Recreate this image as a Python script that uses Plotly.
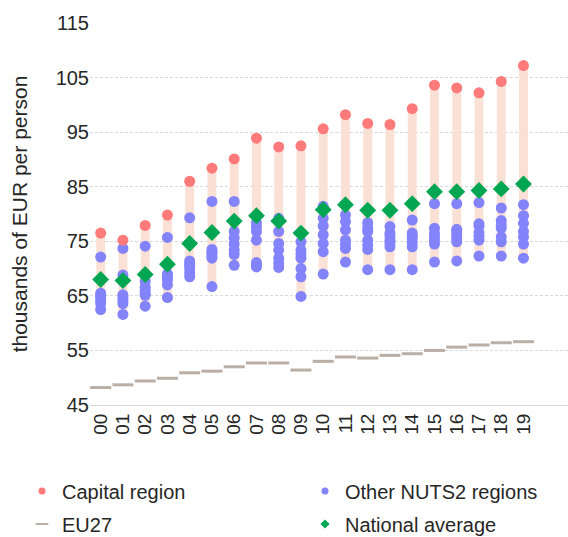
import plotly.graph_objects as go

years = ["00", "01", "02", "03", "04", "05", "06", "07", "08", "09",
         "10", "11", "12", "13", "14", "15", "16", "17", "18", "19"]

capital = [76.5, 75.2, 77.9, 79.8, 86.0, 88.4, 90.1, 93.9, 92.3, 92.5,
           95.6, 98.2, 96.6, 96.4, 99.3, 103.6, 103.1, 102.2, 104.3, 107.2]

national = [68.0, 67.8, 68.9, 70.8, 74.6, 76.6, 78.7, 79.7, 78.7, 76.5,
            80.8, 81.7, 80.7, 80.7, 81.9, 84.1, 84.1, 84.3, 84.6, 85.5]

eu27 = [48.2, 48.7, 49.4, 49.9, 50.9, 51.2, 52.0, 52.7, 52.7, 51.4,
        53.0, 53.8, 53.6, 54.1, 54.4, 55.0, 55.6, 56.0, 56.4, 56.6]

other_regions = [
    [72.1, 65.5, 64.8, 64.2, 63.6, 62.5, 65.0],
    [73.7, 68.8, 64.8, 64.2, 63.6, 61.6, 65.2],
    [74.1, 67.6, 66.0, 65.5, 65.1, 63.1, 66.6],
    [75.7, 68.8, 67.9, 67.0, 68.3, 64.7, 69.0],
    [79.3, 71.4, 70.6, 70.0, 69.2, 68.5, 70.9],
    [82.3, 73.5, 72.8, 71.9, 73.0, 66.7, 72.3],
    [82.3, 76.8, 75.6, 74.5, 73.4, 72.6, 70.6],
    [78.4, 77.6, 76.8, 75.2, 71.1, 70.3, 70.7],
    [79.2, 76.8, 74.6, 73.4, 71.9, 70.2, 71.0],
    [74.9, 73.4, 71.9, 70.0, 68.5, 64.9, 72.6],
    [81.4, 79.2, 77.8, 76.2, 74.6, 73.1, 69.0],
    [79.8, 78.6, 77.1, 75.2, 73.7, 74.4, 71.2],
    [78.4, 76.8, 75.2, 73.5, 74.3, 77.5, 69.8],
    [77.7, 76.5, 75.2, 74.0, 76.0, 74.7, 69.8],
    [78.9, 76.5, 75.6, 74.0, 74.8, 76.0, 69.8],
    [81.9, 77.4, 75.8, 74.5, 76.5, 75.2, 71.2],
    [81.9, 77.2, 76.2, 74.9, 75.6, 76.8, 71.4],
    [82.1, 77.8, 76.6, 75.2, 78.2, 75.9, 72.3],
    [81.1, 78.8, 77.4, 74.9, 78.0, 75.8, 72.3],
    [81.7, 79.7, 78.3, 76.8, 75.8, 74.5, 71.9],
]

RED = "#FF7B7B"
BLUE = "#8383FC"
GREEN = "#00A651"
DASH = "#BBAEA5"
BAR = "#FBE1D5"
FONT = "Liberation Sans, Arial, sans-serif"
TXT = "#262626"

idx = list(range(len(years)))
lows = [min(v) for v in other_regions]

fig = go.Figure()

# range bars
fig.add_trace(go.Bar(
    x=idx, y=[c - l for c, l in zip(capital, lows)], base=lows,
    width=0.4, marker=dict(color=BAR, line=dict(width=0)),
    showlegend=False, hoverinfo="skip"))

# EU27 dashes
fig.add_trace(go.Scatter(
    x=idx, y=eu27, mode="markers",
    marker=dict(symbol="line-ew", size=15, line=dict(color=DASH, width=3)),
    showlegend=False))

# other regions
ox, oy = [], []
for i, vals in zip(idx, other_regions):
    for v in vals:
        ox.append(i)
        oy.append(v)
fig.add_trace(go.Scatter(
    x=ox, y=oy, mode="markers",
    marker=dict(symbol="circle", size=11, color=BLUE),
    showlegend=False))

# national average
fig.add_trace(go.Scatter(
    x=idx, y=national, mode="markers",
    marker=dict(symbol="diamond", size=13, color=GREEN),
    showlegend=False))

# capital
fig.add_trace(go.Scatter(
    x=idx, y=capital, mode="markers",
    marker=dict(symbol="circle", size=11, color=RED),
    showlegend=False))

# legend entries (one legend box per entry for exact placement)
fig.add_trace(go.Scatter(x=[None], y=[None], mode="markers", name="Capital region",
                         legend="legend",
                         marker=dict(symbol="circle", size=7, color=RED)))
fig.add_trace(go.Scatter(x=[None], y=[None], mode="markers", name="Other NUTS2 regions",
                         legend="legend2",
                         marker=dict(symbol="circle", size=7, color=BLUE)))
fig.add_trace(go.Scatter(x=[None], y=[None], mode="markers", name="EU27",
                         legend="legend3",
                         marker=dict(symbol="line-ew", size=9, line=dict(color=DASH, width=2))))
fig.add_trace(go.Scatter(x=[None], y=[None], mode="markers", name="National average",
                         legend="legend4",
                         marker=dict(symbol="diamond", size=7, color=GREEN)))

def leg(x, y):
    return dict(orientation="h", xref="container", yref="container",
                x=x, y=y, xanchor="left", yanchor="middle",
                font=dict(size=20, color=TXT), bgcolor="rgba(0,0,0,0)")

col1 = 22 / 568
col2 = 305 / 568
row1 = 1 - 491 / 537
row2 = 1 - 524 / 537

fig.update_layout(
    width=568, height=537,
    margin=dict(l=90, r=0, t=23, b=132, autoexpand=False),
    paper_bgcolor="white", plot_bgcolor="white",
    font=dict(family=FONT, size=20, color=TXT),
    barmode="overlay",
    showlegend=True,
    legend=leg(col1, row1),
    legend2=leg(col2, row1),
    legend3=leg(col1, row2),
    legend4=leg(col2, row2),
    xaxis=dict(range=[-0.48, 21.0], tickmode="array", tickvals=idx, ticktext=years,
               tickangle=-90, showgrid=False, showline=True, linecolor="#D9D9D9",
               linewidth=1, ticks="", zeroline=False, tickfont=dict(size=19, color=TXT)),
    yaxis=dict(range=[45, 115], dtick=10, tick0=45, showgrid=True, gridcolor="#D9D9D9",
               griddash="3px,2px", gridwidth=1, zeroline=False, showline=False, ticks="",
               tickfont=dict(size=20, color=TXT),
               title=dict(text="thousands of EUR per person", font=dict(size=21, color=TXT),
                          standoff=22)),
)

fig.write_html("out.html", config={"displayModeBar": False},
               post_script="document.body.style.margin='0';")
